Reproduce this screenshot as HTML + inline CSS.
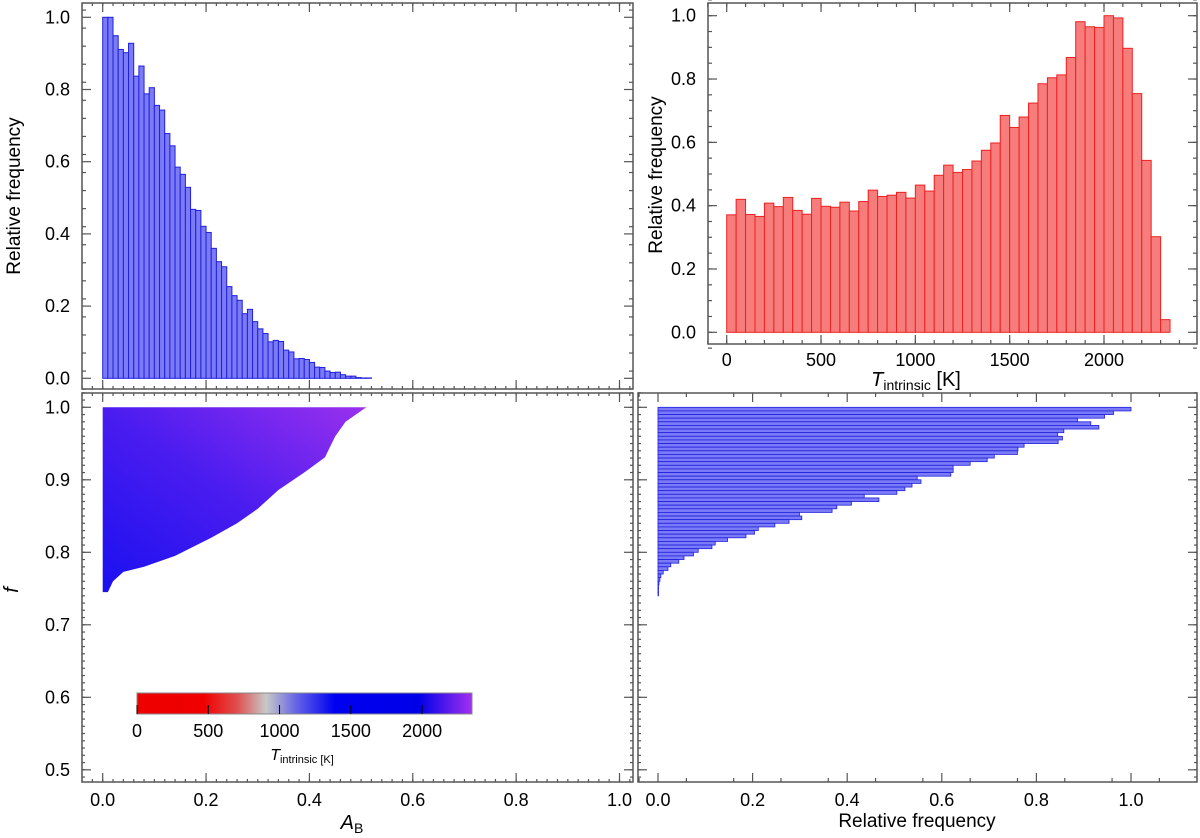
<!DOCTYPE html>
<html><head><meta charset="utf-8"><style>
body{margin:0;background:#fff}
svg text{font-family:"Liberation Sans",sans-serif;fill:#000}
</style></head><body>
<svg id="s" width="1200" height="833" viewBox="0 0 1200 833" xmlns="http://www.w3.org/2000/svg"></svg>
<script>
const abBins = [0,0.01,0.02,0.03,0.04,0.05,0.06,0.07,0.08,0.09,0.10,0.11,0.12,0.13,0.14,0.15,0.16,0.17,0.18,0.19,0.20,0.21,0.22,0.23,0.24,0.25,0.26,0.27,0.28,0.29,0.30,0.31,0.32,0.33,0.34,0.35,0.36,0.37,0.38,0.39,0.40,0.41,0.42,0.43,0.44,0.45,0.46,0.47,0.48,0.49,0.50,0.51];
const abFreq = [1.0,1.0,0.949,0.911,0.902,0.928,0.837,0.865,0.788,0.805,0.756,0.743,0.678,0.644,0.585,0.565,0.529,0.468,0.465,0.421,0.404,0.36,0.323,0.309,0.254,0.229,0.216,0.179,0.191,0.157,0.137,0.124,0.101,0.105,0.102,0.078,0.073,0.054,0.055,0.052,0.044,0.031,0.030,0.020,0.016,0.017,0.010,0.006,0.006,0.002,0.001,0.001];
const tFreq = [0.371,0.42,0.372,0.366,0.408,0.397,0.426,0.385,0.373,0.423,0.398,0.395,0.411,0.383,0.413,0.449,0.429,0.433,0.442,0.424,0.465,0.446,0.496,0.528,0.505,0.514,0.541,0.575,0.598,0.685,0.647,0.68,0.724,0.785,0.804,0.813,0.868,0.981,0.965,0.963,1.0,0.993,0.897,0.754,0.543,0.302,0.04];
const tBinWidth = 50;
const fFreq = [1.0,0.963,0.944,0.887,0.915,0.932,0.858,0.845,0.855,0.846,0.774,0.761,0.760,0.711,0.696,0.660,0.624,0.624,0.619,0.548,0.556,0.537,0.522,0.505,0.436,0.467,0.409,0.378,0.368,0.299,0.304,0.277,0.247,0.212,0.204,0.186,0.147,0.121,0.114,0.085,0.075,0.055,0.044,0.027,0.021,0.011,0.006,0.004,0.002,0.001,0.0005,0.0005];
const fBinWidth = 0.005;
const envF  = [1.0,0.995,0.98,0.96,0.931,0.91,0.886,0.86,0.84,0.82,0.795,0.78,0.773,0.76,0.745];
const envAB = [0.51,0.50,0.47,0.45,0.43,0.39,0.34,0.30,0.26,0.21,0.14,0.08,0.04,0.02,0.01];
const unitTicks = ["0.0","0.2","0.4","0.6","0.8","1.0"];
const tTicks = [0,500,1000,1500,2000];
const fTicks = ["0.5","0.6","0.7","0.8","0.9","1.0"];

const S = document.getElementById('s');
const NS = 'http://www.w3.org/2000/svg';
function mk(tag, attrs, name, parent){const e=document.createElementNS(NS,tag);for(const k in attrs)e.setAttribute(k,attrs[k]);


(parent||S).appendChild(e);return e;}
function txt(x,y,s,name,opt){const t=mk('text',Object.assign({x:x,y:y,'font-size':18,'text-anchor':'middle'},opt||{}),name);t.textContent=s;return t;}

const xAB = v => 102.7 + v*516.8;
const yTL = v => 378.3 - v*361;
const xT = v => 726.7 + v*(377.3/2000);
const yTR = v => 332.3 - v*316.6;
const yF = v => 407.3 + (1-v)*725;
const xRF = v => 658 + v*473;

function frame(x0,y0,x1,y1,name){mk('rect',{x:x0,y:y0,width:x1-x0,height:y1-y0,fill:'none',stroke:'#555','stroke-width':1.5},name);}
function tickX(fx,vals,y0,y1,len,name){vals.forEach(v=>{const x=fx(v);mk('line',{x1:x,y1:y1,x2:x,y2:y1-len,stroke:'#555','stroke-width':1.2},name);mk('line',{x1:x,y1:y0,x2:x,y2:y0+len,stroke:'#555','stroke-width':1.2},name);});}
function tickY(fy,vals,x0,x1,len,name){vals.forEach(v=>{const y=fy(v);mk('line',{x1:x0,y1:y,x2:x0+len,y2:y,stroke:'#555','stroke-width':1.2},name);mk('line',{x1:x1,y1:y,x2:x1-len,y2:y,stroke:'#555','stroke-width':1.2},name);});}
function range(a,b,s){const r=[];for(let v=a;v<=b+1e-9;v+=s)r.push(Math.round(v*1e4)/1e4);return r;}

// Top-left
frame(82,3,633,389,'ab-hist-frame');
abFreq.forEach((v,i)=>{const x=xAB(abBins[i]);
mk('rect',{x:x,y:yTL(v),width:xAB(abBins[i]+0.01)-x,height:yTL(0)-yTL(v),fill:'#7b7bf5',stroke:'#2020e0','stroke-width':1},'ab-bar');});
tickX(xAB,range(0,1,0.2),3,389,9,'ab-major-tick');
tickX(xAB,range(-0.04,1.02,0.02),3,389,3,'ab-minor-tick');
tickY(yTL,range(0,1,0.2),82,633,9,'tl-y-major-tick');
tickY(yTL,range(-0.03,1.03,0.05),82,633,4,'tl-y-minor-tick');
unitTicks.forEach((s,i)=>txt(70,yTL(i*0.2)+6,s,'tl-y-tick-label',{'text-anchor':'end'}));
txt(0,0,'Relative frequency','tl-y-axis-title',{transform:'translate(20,196) rotate(-90)','font-size':19});

// Top-right
frame(708,3,1197,344,'t-hist-frame');
tFreq.forEach((v,i)=>{const x=xT(i*tBinWidth);
mk('rect',{x:x,y:yTR(v),width:xT((i+1)*tBinWidth)-x,height:yTR(0)-yTR(v),fill:'#f77d7d',stroke:'#ee2020','stroke-width':1},'t-bar');});
tickX(xT,tTicks,3,344,9,'t-major-tick');
tickX(xT,range(-100,2400,100),3,344,4,'t-minor-tick');
tickY(yTR,range(0,1,0.2),708,1197,9,'tr-y-major-tick');
tickY(yTR,range(-0.05,1.05,0.05),708,1197,4,'tr-y-minor-tick');
unitTicks.forEach((s,i)=>txt(696,yTR(i*0.2)+6,s,'tr-y-tick-label',{'text-anchor':'end'}));
tTicks.forEach(v=>txt(xT(v),366,String(v),'t-tick-label'));
const tt=txt(916,386,'','t-axis-title',{'font-size':20});
tt.innerHTML='<tspan font-style="italic">T</tspan><tspan font-size="14" dy="4">intrinsic</tspan><tspan dy="-4"> [K]</tspan>';
txt(0,0,'Relative frequency','tr-y-axis-title',{transform:'translate(662,175) rotate(-90)','font-size':19});

// Bottom-left scatter
frame(82,393,633,782,'scatter-frame');
const defs=mk('defs',{},'defs');
const g=mk('linearGradient',{id:'cg',x1:'0',y1:'1',x2:'1',y2:'0'},'cloud-gradient',defs);
mk('stop',{offset:'0','stop-color':'#1a10f0'},'stop',g);
mk('stop',{offset:'0.5','stop-color':'#4a1cf0'},'stop',g);
mk('stop',{offset:'1','stop-color':'#9a30ee'},'stop',g);
let pts=[[xAB(0),yF(envF[0])]];
envF.forEach((f,i)=>pts.push([xAB(envAB[i]),yF(f)]));
pts.push([xAB(0),yF(envF[envF.length-1])]);
mk('polygon',{points:pts.map(p=>p.join(',')).join(' '),fill:'url(#cg)'},'scatter-cloud');
tickX(xAB,range(0,1,0.2),393,782,9,'bl-x-major-tick');
tickX(xAB,range(-0.04,1.02,0.02),393,782,3,'bl-x-minor-tick');
tickY(yF,range(0.5,1,0.1),82,633,9,'f-major-tick');
tickY(yF,range(0.49,1.02,0.01),82,633,3,'f-minor-tick');
fTicks.forEach((s,i)=>txt(70,yF(0.5+i*0.1)+6,s,'f-tick-label',{'text-anchor':'end'}));
unitTicks.forEach((s,i)=>txt(xAB(i*0.2),806,s,'ab-tick-label'));
const ab=txt(352,829,'','ab-axis-title',{'font-size':20});
ab.innerHTML='<tspan font-style="italic">A</tspan><tspan font-size="14" dy="4">B</tspan>';
txt(0,0,'f','f-axis-title',{transform:'translate(18,590) rotate(-90)','font-size':20,'font-style':'italic'});
const cb=mk('linearGradient',{id:'cb',x1:'0',y1:'0',x2:'1',y2:'0'},'colorbar-gradient',defs);
[['0','#ee0000'],['0.2','#f00000'],['0.3','#e05050'],['0.385','#c8c8c8'],['0.48','#6060e8'],['0.59','#0000f0'],['0.84','#0000e8'],['1','#a030f0']].forEach(s=>mk('stop',{offset:s[0],'stop-color':s[1]},'stop',cb));
mk('rect',{x:137,y:693,width:335,height:21,fill:'url(#cb)',stroke:'#888','stroke-width':1},'colorbar');
const xCB=v=>137+v*(335/2350);
tTicks.forEach(v=>{mk('line',{x1:xCB(v),y1:714,x2:xCB(v),y2:705,stroke:'#000','stroke-width':1},'colorbar-tick');txt(xCB(v),737,String(v),'colorbar-tick-label');});
const cbt=txt(302,760,'','colorbar-title',{'font-size':16});
cbt.innerHTML='<tspan font-style="italic">T</tspan><tspan font-size="11" dy="3">intrinsic [K]</tspan>';

// Bottom-right
frame(638,393,1197,782,'f-hist-frame');
fFreq.forEach((v,i)=>{const fTop=1.0-i*fBinWidth;
mk('rect',{x:xRF(0),y:yF(fTop),width:Math.max(xRF(v)-xRF(0),0.5),height:yF(fTop-fBinWidth)-yF(fTop),fill:'#7b7bf5',stroke:'#2020e0','stroke-width':0.8},'f-bar');});
tickX(xRF,range(0,1,0.2),393,782,9,'br-x-major-tick');
tickX(xRF,range(-0.04,1.12,0.1),393,782,4,'br-x-minor-tick');
tickY(yF,range(0.5,1,0.1),638,1197,9,'br-y-major-tick');
tickY(yF,range(0.49,1.02,0.01),638,1197,3,'br-y-minor-tick');
unitTicks.forEach((s,i)=>txt(xRF(i*0.2),806,s,'br-x-tick-label'));
txt(917,827,'Relative frequency','br-x-axis-title',{'font-size':19});
</script>
</body></html>
